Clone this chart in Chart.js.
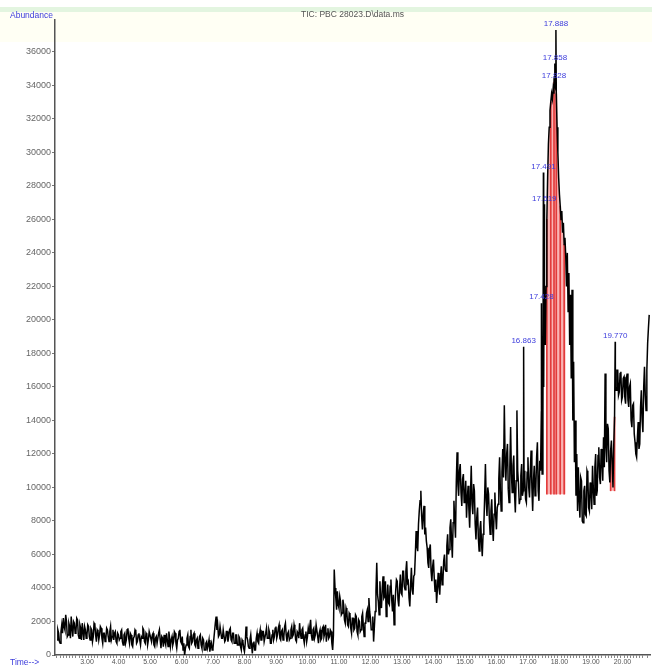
<!DOCTYPE html>
<html>
<head>
<meta charset="utf-8">
<script src="https://cdn.jsdelivr.net/npm/chart.js@4.4.1/dist/chart.umd.min.js"></script>
<style>
  html, body { margin: 0; padding: 0; background: #fff; }
  canvas { display: block; }
</style>
</head>
<body>
<canvas id="tic" width="652" height="668"></canvas>
<script>
// Total ion chromatogram, one abundance reading per scan.
const chartTitle = 'TIC: PBC 28023.D\\data.ms';
const yAxisTitle = 'Abundance';
const xAxisTitle = 'Time-->';

const scanStart = 2.05;       // min, first scan
const scanInterval = 0.025;   // min between scans

// Abundance per scan; each row spans one minute starting at 2.05, 3.05, … 20.05 min
const abundance = [
  900,1500, 1300,800, 700,1400, 1800,1300, 2200,1700, 1500,2400, 2000,1100, 1200,1900, 1700,1000, 2300,1600, 1100,2000, 1900,1300, 1400,2200, 2100,1200, 1000,1800, 1600,900, 1900,1400, 900,1700, 1500,1000, 1200,1800,
  1700,1100, 900,1600, 1500,800, 1100,1900, 1800,1200, 800,1500, 1400,900, 1200,1700, 1600,1000, 700,1300, 1300,800, 1000,1600, 1500,1100, 800,1400, 1700,900, 1100,1500, 900,1300, 1400,800, 700,1300, 1200,900,
  1000,1400, 1500,800, 600,1200, 1300,700, 900,1500, 1600,1000, 700,1300, 1200,600, 500,1000, 1100,1500, 1400,700, 800,1200, 1300,900, 600,1100, 1000,1600, 1500,800, 700,1300, 1200,600, 900,1400, 1400,1000,
  800,1200, 1300,600, 500,1000, 1100,700, 700,1300, 1500,900, 400,1100, 1000,500, 1200,800, 600,1300, 900,500, 1400,1000, 500,900, 1100,600, 800,1400, 1300,700, 400,900, 1000,1400, 1500,800, 700,1100,
  300,700, 0,400, 600,1000, 1200,500, 400,1100, 1500,700, 800,1200, 1300,600, 500,900, 1000,400, 700,1100, 1200,600, 400,1000, 900,300, 300,700, 800,400, 600,900, 200,500, 700,300, 400,900,
  1400,1900, 2300,1500, 1800,1100, 1200,1700, 1700,1000, 1000,1500, 1500,800, 900,1400, 1400,800, 1100,1500, 1600,900, 800,1300, 1300,700, 700,1200, 1200,600, 600,1100, 1000,500, 300,900, 800,400, 200,700,
  1700,1100, 900,500, 400,900, 1200,600, 100,700, 800,300, 300,1000, 1300,800, 700,1200, 1500,900, 900,1400, 1400,800, 800,1300, 1600,1000, 1000,1500, 1300,700, 700,1200, 1500,900, 1100,1600, 1700,1000,
  1200,1600, 1800,1000, 900,1400, 1500,900, 1100,1700, 1900,1200, 800,1300, 1400,900, 1000,1500, 1700,1100, 1200,1800, 1500,900, 800,1400, 1300,1000, 1900,1300, 1000,1500, 1600,1000, 700,1200, 1400,800, 1100,1600,
  1300,1700, 2100,1200, 900,1500, 1600,1000, 1200,1800, 1800,1100, 700,1300, 1500,900, 1000,1600, 1700,1100, 1300,1800, 800,1300, 1600,1000, 1100,1500, 1400,700, 300,1200, 5100,4000, 3400,2700, 3800,3000, 2800,3500,
  3200,2400, 2500,3300, 3000,2100, 1900,2800, 2600,1800, 1700,2500, 2400,1600, 1300,2200, 2200,1500, 1600,2400, 2300,1400, 1200,2100, 2000,1400, 1500,2300, 2500,1700, 1100,1900, 1900,2500, 2700,2000, 3400,2600, 2200,1500,
  1500,2300, 800,1700, 2600,3800, 5500,3600, 3200,2400, 4400,3300, 2800,4000, 4700,3400, 3500,4400, 2300,3200, 4200,3100, 3000,4100, 4500,3300, 2600,3600, 1800,2800, 3800,4500, 4400,3300, 2900,4000, 4800,3700, 3600,5000,
  5000,4100, 3900,5000, 5600,4300, 4400,3400, 2900,4200, 5200,3900, 3600,4700, 4800,6000, 7400,6500, 6200,7800, 8600,9200, 9800,8300, 7500,8400, 8900,7200, 7600,6800, 6400,5500, 5200,6300, 6600,5000, 4400,5300, 5700,4600,
  3800,4500, 3100,3900, 4900,4100, 3600,4700, 5300,4200, 4400,5600, 6000,5100, 5000,6500, 7200,6000, 6300,7600, 8100,6800, 5800,7900, 9200,8000, 7000,10300, 12100,10200, 9500,11000, 11400,9700, 8900,10500, 10800,9100, 9400,10400,
  8200,9300, 10100,8700, 7600,9500, 11300,9000, 8400,10200, 9800,7800, 6900,8200, 8800,7000, 6200,7500, 8000,6700, 5900,7200, 7700,9400, 11400,9200, 8300,10000, 9600,8100, 7200,8600, 9300,7700, 6800,8400, 9700,8300, 7500,8800,
  9000,10500, 11800,9800, 8600,10900, 12300,10600, 14900,11700, 10400,12000, 12600,9900, 9100,11200, 13600,10800, 9700,11300, 11900,9600, 8500,10400, 14600,11000, 10200,9000, 9300,10700, 11400,9500, 9800,11000, 10600,9300, 9100,10900, 11800,10000,
  9400,11000, 12200,10000, 8600,10400, 11300,9500, 9900,11800, 12700,9800, 9200,11600, 11000,14500, 10800,13500, 16000,21000, 18500,22000, 26000,28500, 30500,31500, 32500,33000, 33500,33200, 33800,33500, 34000,34500, 33500,31500, 30000,28500, 27500,26800,
  26000,26500, 25200,25800, 24500,24900, 23800,22000, 24000,20500, 22800,18500, 21500,16500, 21800,14000, 17500,11500, 14000,9500, 12000,8600, 11200,9300, 8200,10600, 10400,8000, 7900,9800, 10100,8400, 8300,11000, 10800,8800, 8600,10300, 9900,8700,
  11300,10000, 9000,11200, 12000,9500, 9800,11900, 12400,10600, 10200,12300, 11700,10400, 13000,11200, 16800,12500, 11500,13800, 13500,11000, 10300,12200, 12800,11400, 10000,12600, 14200,16000, 15800,17000, 17000,15500, 15700,16800, 16900,15200, 15400,16500,
  16600,15400, 15000,16500, 16800,15200, 14800,16000, 16200,14000, 13600,14900, 15000,13200, 12700,12000, 11800,13000, 13900,12300, 12600,14800, 15800,14000, 13300,16000, 17200,15500, 14600,17000, 18600,19500, 20300
];

// Labelled peak apexes
const peakTimes     = [16.863, 17.428, 17.491, 17.519, 17.828, 17.858, 17.888, 19.770];
const peakAbundance = [18400, 21000, 28800, 26900, 34200, 35300, 37300, 18700];

// Integrated windows (min) and their baselines
const integrationStart = [17.60, 19.62];
const integrationEnd   = [18.20, 19.76];
const integrationBase  = [9600, 9800];

// Axis ticks
const yTickValues = [0, 2000, 4000, 6000, 8000, 10000, 12000, 14000, 16000, 18000,
                     20000, 22000, 24000, 26000, 28000, 30000, 32000, 34000, 36000];
const timeRange = [1.985, 20.875];
const abundanceMax = 37900;
const xMinorStep = 0.1;

// ---- build series ----
const scans = abundance.map((v, i) => ({ x: +(scanStart + i * scanInterval).toFixed(3), y: v }));
const apexes = peakTimes.map((t, i) => ({ x: t, y: peakAbundance[i] }));
const trace = scans.concat(apexes).sort((a, b) => a.x - b.x);

const areaSets = integrationStart.map((s, k) => ({
  type: 'line',
  data: trace.filter(p => p.x >= s && p.x <= integrationEnd[k]),
  borderWidth: 0,
  pointRadius: 0,
  backgroundColor: 'rgb(250,180,180)',
  fill: { value: integrationBase[k] },
  order: 2
}));

// red drop lines from the baseline up to the signal inside each window
const stripes = [];
integrationStart.forEach((s, k) => {
  trace.filter(p => p.x >= s && p.x <= integrationEnd[k]).forEach((p, j) => {
    if (j % 5 === 0) stripes.push({ x: p.x, y: [integrationBase[k], p.y] });
  });
});

const isWhole = v => Math.abs(v - Math.round(v)) < 1e-6;
const FONT = 'Liberation Sans, Arial, sans-serif';
const BLUE = '#3c3cdc';

const decorations = {
  id: 'decorations',
  beforeDraw(chart) {
    const { ctx, width, height } = chart;
    ctx.save();
    ctx.fillStyle = '#ffffff';
    ctx.fillRect(0, 0, width, height);
    ctx.fillStyle = '#fffff4';
    ctx.fillRect(0, 12, width, 30);
    ctx.fillStyle = '#e3f5e0';
    ctx.fillRect(0, 7, width, 5);
    ctx.restore();
  },
  afterDatasetsDraw(chart) {
    const { ctx, scales: { x, y } } = chart;
    ctx.save();
    ctx.font = '8px ' + FONT;
    ctx.fillStyle = BLUE;
    ctx.textAlign = 'center';
    ctx.textBaseline = 'bottom';
    peakTimes.forEach((t, i) => {
      ctx.fillText(t.toFixed(3), x.getPixelForValue(t), y.getPixelForValue(peakAbundance[i]) - 2);
    });
    ctx.restore();
  },
  afterDraw(chart) {
    const { ctx, chartArea } = chart;
    ctx.save();
    ctx.textBaseline = 'middle';
    ctx.font = '8.5px ' + FONT;
    ctx.fillStyle = '#555';
    ctx.textAlign = 'center';
    ctx.fillText(chartTitle, (chartArea.left + chartArea.right) / 2, 15);
    ctx.fillStyle = BLUE;
    ctx.textAlign = 'left';
    ctx.fillText(yAxisTitle, 10, 16);
    ctx.fillText(xAxisTitle, 10, 663);
    ctx.restore();
  }
};

new Chart(document.getElementById('tic'), {
  type: 'line',
  data: {
    datasets: [
      {
        label: 'TIC',
        data: trace,
        borderColor: '#000',
        borderWidth: 1.5,
        pointRadius: 0,
        tension: 0,
        fill: false,
        order: 0
      },
      {
        type: 'bar',
        data: stripes,
        backgroundColor: '#e23a3a',
        borderWidth: 0,
        barThickness: 1,
        grouped: false,
        order: 1
      },
      ...areaSets
    ]
  },
  options: {
    responsive: false,
    animation: false,
    layout: { padding: { top: 20, right: 2, left: 0, bottom: 0 } },
    plugins: { legend: { display: false }, tooltip: { enabled: false }, title: { display: false } },
    scales: {
      x: {
        type: 'linear',
        min: timeRange[0],
        max: timeRange[1],
        offset: false,
        border: { display: true, color: '#555', width: 1.5 },
        grid: { display: true, drawOnChartArea: false, drawTicks: true, tickLength: 3, color: '#888' },
        ticks: {
          stepSize: xMinorStep,
          autoSkip: false,
          maxRotation: 0,
          minRotation: 0,
          padding: 0,
          color: '#555',
          font: { family: FONT, size: 7 },
          callback: v => isWhole(v) ? Math.round(v).toFixed(2) : ''
        },
        afterFit: s => { s.height = 13; }
      },
      y: {
        type: 'linear',
        min: 0,
        max: abundanceMax,
        border: { display: true, color: '#555', width: 1.5 },
        grid: { display: true, drawOnChartArea: false, drawTicks: true, tickLength: 3, color: '#777' },
        ticks: {
          autoSkip: false,
          padding: 1,
          color: '#666',
          font: { family: FONT, size: 9 },
          callback: v => String(v)
        },
        afterBuildTicks: s => { s.ticks = yTickValues.map(v => ({ value: v })); },
        afterFit: s => { s.width = 55; }
      }
    }
  },
  plugins: [decorations]
});
</script>
</body>
</html>
